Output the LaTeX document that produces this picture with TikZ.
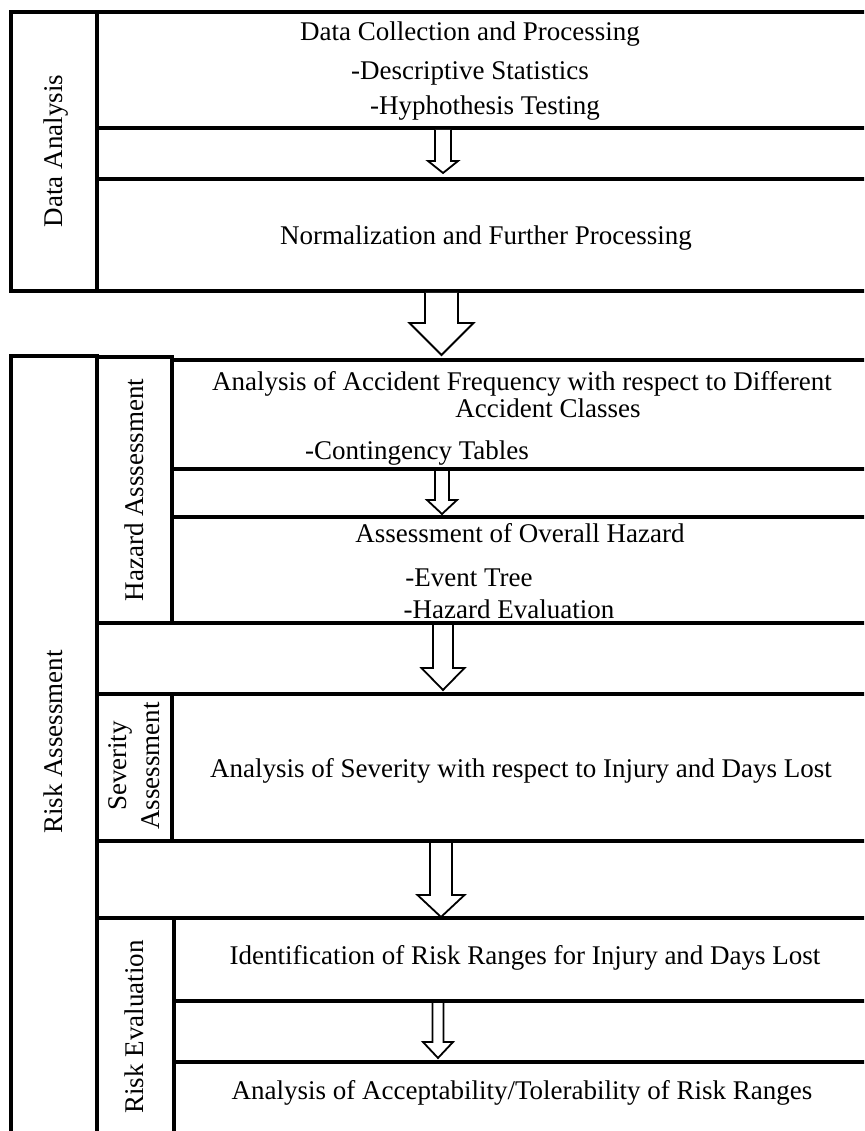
\documentclass[tikz,border=0pt]{standalone}
\usepackage{fontspec}
\setmainfont{Liberation Serif}
% hollow block arrow: centre x, top, head base, tip, shaft half-width, head half-width
\newcommand\hollowarrow[6]{%
  \draw[hollow] (#1-#5,#2) -- (#1-#5,#3) -- (#1-#6,#3) -- (#1,#4)
    -- (#1+#6,#3) -- (#1+#5,#3) -- (#1+#5,#2);}
\begin{document}
\begin{tikzpicture}[x=1pt,y=-1pt,
  frame/.style={draw, line width=3.5pt, anchor=north west, inner sep=0pt, outer sep=0pt},
  txt/.style={anchor=base, inner sep=0pt, font=\fontsize{27}{34}\selectfont},
  vtxt/.style={txt, rotate=90},
  hollow/.style={draw, line width=1.8pt, fill=white, line join=miter}]
\useasboundingbox (0,0) rectangle (864,1131);
\clip (0,0) rectangle (864,1131);

% ---- Data analysis block ----
\node[frame, minimum width=86, minimum height=279] (daLbl) at (11,12) {};
\node[frame, minimum width=783, minimum height=116] (da1) at (97,12) {};
\node[frame, minimum width=783, minimum height=112] (da2) at (97,179) {};

% ---- Risk assessment block ----
\node[frame, minimum width=86, minimum height=794] (raLbl) at (11,356) {};
\node[frame, minimum width=75, minimum height=266] (haLbl) at (97,357) {};
\node[frame, minimum width=708, minimum height=109] (ha1) at (172,360) {};
\node[frame, minimum width=708, minimum height=106] (ha2) at (172,517) {};
\node[frame, minimum width=75, minimum height=147] (saLbl) at (97,694) {};
\node[frame, minimum width=708, minimum height=147] (sa1) at (172,694) {};
\node[frame, minimum width=77, minimum height=232] (reLbl) at (97,918) {};
\node[frame, minimum width=706, minimum height=83] (re1) at (174,918) {};
\node[frame, minimum width=706, minimum height=88] (re2) at (174,1062) {};

% ---- vertical labels ----
\node[vtxt] (lDA) at (62,151) {Data Analysis};
\node[vtxt] (lRA) at (62,742) {Risk Assessment};
\node[vtxt] (lHA) at (143,490) {Hazard Asssessment};
\node[txt, anchor=center, rotate=90, align=center, font=\fontsize{27}{33}\selectfont] (lSA) at (134,766) {Severity\\Assessment};
\node[vtxt] (lRE) at (143,1027) {Risk Evaluation};

% ---- box texts ----
\node[txt] (t1) at (470,41) {Data Collection and Processing};
\node[txt] (t2) at (470,80) {-Descriptive Statistics};
\node[txt] (t3) at (485,115) {-Hyphothesis Testing};
\node[txt] (t4) at (486,245) {Normalization and Further Processing};
\node[txt] (t5) at (522,390) {Analysis of Accident Frequency with respect to Different};
\node[txt] (t6) at (548,417) {Accident Classes};
\node[txt] (t7) at (417,459) {-Contingency Tables};
\node[txt] (t8) at (520,542) {Assessment of Overall Hazard};
\node[txt] (t9) at (469,586) {-Event Tree};
\node[txt] (t10) at (509,618) {-Hazard Evaluation};
\node[txt] (t11) at (521,777) {Analysis of Severity with respect to Injury and Days Lost};
\node[txt] (t12) at (525,964) {Identification of Risk Ranges for Injury and Days Lost};
\node[txt] (t13) at (522,1099) {Analysis of Acceptability/Tolerability of Risk Ranges};

% ---- flow arrows ----
\hollowarrow{443}{130}{161}{173}{8}{15}
\hollowarrow{441.5}{293}{323}{355}{16.5}{32}
\hollowarrow{442}{471}{500}{514}{7}{15}
\hollowarrow{443}{625}{668}{690}{10}{21.5}
\hollowarrow{441}{843}{895}{917}{11}{23.5}
\hollowarrow{438}{1003}{1042}{1058}{5.5}{15}
\end{tikzpicture}
\end{document}
